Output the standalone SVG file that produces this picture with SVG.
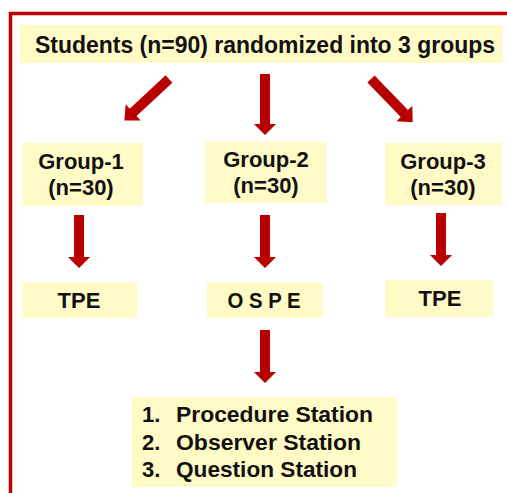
<svg xmlns="http://www.w3.org/2000/svg" width="507" height="493" viewBox="0 0 507 493">
  <defs>
    <style>
      .box { fill: #fffac6; }
      .t { font-family: "Liberation Sans", Arial, sans-serif; font-weight: bold; fill: #111; }
      .arrow { fill: #b80000; }
    </style>
  </defs>
  <rect width="507" height="493" fill="#ffffff"/>
  <!-- red frame -->
  <path d="M10.5,493 L10.5,13.5 L507,13.5" fill="none" stroke="#c00000" stroke-width="3.5"/>

  <g id="top">
    <rect class="box" x="20" y="25" width="483" height="38"/>
    <text class="t" x="265" y="53" font-size="23" text-anchor="middle" textLength="460" lengthAdjust="spacingAndGlyphs">Students (n=90) randomized into 3 groups</text>
  </g>

  <g id="group1">
    <rect class="box" x="22" y="143" width="121" height="63"/>
    <text class="t" x="81" y="169" font-size="22" text-anchor="middle">Group-1</text>
    <text class="t" x="81" y="195" font-size="22" text-anchor="middle">(n=30)</text>
  </g>
  <g id="group2">
    <rect class="box" x="205" y="142" width="122" height="61"/>
    <text class="t" x="266" y="167" font-size="22" text-anchor="middle">Group-2</text>
    <text class="t" x="266" y="193" font-size="22" text-anchor="middle">(n=30)</text>
  </g>
  <g id="group3">
    <rect class="box" x="385" y="143" width="117" height="62"/>
    <text class="t" x="443" y="169" font-size="22" text-anchor="middle">Group-3</text>
    <text class="t" x="443" y="195" font-size="22" text-anchor="middle">(n=30)</text>
  </g>

  <g id="tpe1">
    <rect class="box" x="22" y="282" width="115" height="36"/>
    <text class="t" x="79" y="308" font-size="22" text-anchor="middle">TPE</text>
  </g>
  <g id="ospe">
    <rect class="box" x="207" y="282" width="116" height="36"/>
    <text class="t" x="264" y="308" font-size="22" text-anchor="middle" textLength="73" lengthAdjust="spacingAndGlyphs">O S P E</text>
  </g>
  <g id="tpe3">
    <rect class="box" x="385" y="280" width="108" height="37"/>
    <text class="t" x="440" y="306" font-size="22" text-anchor="middle">TPE</text>
  </g>

  <g id="stations">
    <rect class="box" x="132" y="397" width="265" height="90"/>
    <text class="t" font-size="22">
      <tspan x="142" y="422">1.</tspan><tspan x="176" y="422" textLength="197" lengthAdjust="spacingAndGlyphs">Procedure Station</tspan>
      <tspan x="142" y="450">2.</tspan><tspan x="176" y="450" textLength="185" lengthAdjust="spacingAndGlyphs">Observer Station</tspan>
      <tspan x="142" y="477">3.</tspan><tspan x="176" y="477" textLength="181" lengthAdjust="spacingAndGlyphs">Question Station</tspan>
    </text>
  </g>

  <g id="connectors" class="arrow">
    <path transform="translate(169,79) rotate(47)" d="M-5,0 L5,0 L5,49 L11,49 L0,61 L-11,49 L-5,49 Z"/>
    <path transform="translate(265,74)" d="M-5,0 L5,0 L5,50 L11,50 L0,61 L-11,50 L-5,50 Z"/>
    <path transform="translate(371,79) rotate(-44)" d="M-5,0 L5,0 L5,48 L11,48 L0,60 L-11,48 L-5,48 Z"/>
    <path transform="translate(79,215)" d="M-5,0 L5,0 L5,42 L11,42 L0,53 L-11,42 L-5,42 Z"/>
    <path transform="translate(265,215)" d="M-5,0 L5,0 L5,42 L11,42 L0,53 L-11,42 L-5,42 Z"/>
    <path transform="translate(441,213)" d="M-5,0 L5,0 L5,42 L11,42 L0,53 L-11,42 L-5,42 Z"/>
    <path transform="translate(265,330)" d="M-5,0 L5,0 L5,42 L11,42 L0,53 L-11,42 L-5,42 Z"/>
  </g>
</svg>
